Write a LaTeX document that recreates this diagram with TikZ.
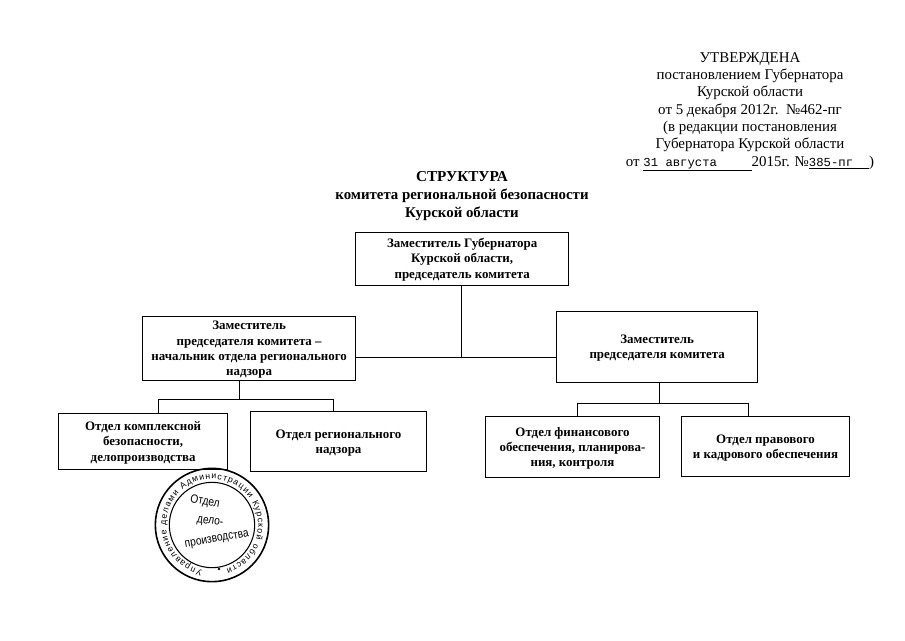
\documentclass[tikz,border=0pt]{standalone}
\usepackage{fontspec}
\setmainfont{Liberation Serif}
\setsansfont{Liberation Sans}
\setmonofont{Liberation Mono}
\newfontfamily\stampfont{Liberation Sans}[FakeStretch=0.85]
\usepackage{tikz}
\usetikzlibrary{decorations.text}

\tikzset{
  box/.style={draw,anchor=north west,align=center,inner sep=0pt,line width=0.75pt,
    font=\fontsize{9.7}{11.4}\selectfont\bfseries,text depth=-3pt},
  link/.style={line width=0.75pt},
  stamptext/.style={font=\stampfont\fontsize{9}{10}\selectfont}
}

\begin{document}
\begin{tikzpicture}[x=0.75pt,y=-0.75pt]
    \useasboundingbox (0,0) rectangle (905,640);

    \node[align=center,font=\fontsize{11.2}{13}\selectfont] (approved) at (750,112)
      {УТВЕРЖДЕНА\\постановлением Губернатора\\Курской области\\от 5 декабря 2012г.\ \ №462-пг\\(в редакции постановления\\Губернатора Курской области\\от \underline{\ttfamily\fontsize{9.2}{10}\selectfont 31 августа\hspace{26pt}}2015г. №\underline{\ttfamily\fontsize{9.2}{10}\selectfont 385-пг\hspace{12pt}})};
    \node[align=center,font=\fontsize{11.15}{13.2}\selectfont\bfseries] (title) at (462,196)
      {{\fontsize{11.4}{13.2}\selectfont СТРУКТУРА}\\комитета региональной безопасности\\Курской области};

    \node[box,minimum width=160pt,minimum height=40pt,text depth=1.3pt] (chair) at (355,232)
      {Заместитель Губернатора\\Курской области,\\председатель комитета};
    \node[box,minimum width=160pt,minimum height=48pt,text depth=-7pt] (deputyl) at (142,316)
      {Заместитель\\председателя комитета –\\начальник отдела регионального\\надзора};
    \node[box,minimum width=151pt,minimum height=53pt] (deputyr) at (556,311)
      {Заместитель\\председателя комитета};
    \node[box,minimum width=127pt,minimum height=42pt] (dcomplex) at (58,413)
      {Отдел комплексной\\безопасности,\\делопроизводства};
    \node[box,minimum width=132pt,minimum height=45pt] (dsuperv) at (250,411)
      {Отдел регионального\\надзора};
    \node[box,minimum width=130.5pt,minimum height=45.5pt] (dfinance) at (485,416)
      {Отдел финансового\\обеспечения, планирова-\\ния, контроля};
    \node[box,minimum width=126pt,minimum height=45pt] (dlegal) at (681,416)
      {Отдел правового\\и кадрового обеспечения};

    \coordinate (bus) at (461,357);
    \coordinate (busl) at (239,399);
    \coordinate (stubcomplex) at (158,399);
    \coordinate (stubsuperv) at (333,399);
    \coordinate (busr) at (659,403);
    \coordinate (stubfinance) at (577,403);
    \coordinate (stublegal) at (748,403);

    \draw[link] (bus |- chair.south) -- (bus);
    \draw[link] (deputyl.east |- bus) -- (deputyr.west |- bus);
    \draw[link] (busl |- deputyl.south) -- (busl);
    \draw[link] (stubcomplex |- dcomplex.north) -- (stubcomplex) -- (stubsuperv) -- (stubsuperv |- dsuperv.north);
    \draw[link] (busr |- deputyr.south) -- (busr);
    \draw[link] (stubfinance |- dfinance.north) -- (stubfinance) -- (stublegal) -- (stublegal |- dlegal.north);

    \node[draw,circle,line width=1.2pt,inner sep=0pt,minimum size=85pt] (stampouter) at (212,525) {};
    \node[draw,circle,line width=0.8pt,inner sep=0pt,minimum size=64pt] (stampinner) at (212,525) {};
    \path[decorate,decoration={text along path,text align=fit to path,
        text={|\sffamily\fontsize{6.5}{7}\selectfont|Управление делами Администрации Курской области}}]
      (212,525) ++(102:46) arc[start angle=102,end angle=432,radius=46];
    \node[circle,fill,inner sep=0pt,minimum size=2pt] (stampdot) at (219,569) {};
    \node[stamptext,rotate=-10] (stampa) at (205,502) {Отдел};
    \node[stamptext,rotate=-8] (stampb) at (210,522) {дело-};
    \node[stamptext,rotate=10] (stampc) at (217,540) {производства};
  \end{tikzpicture}
\end{document}
